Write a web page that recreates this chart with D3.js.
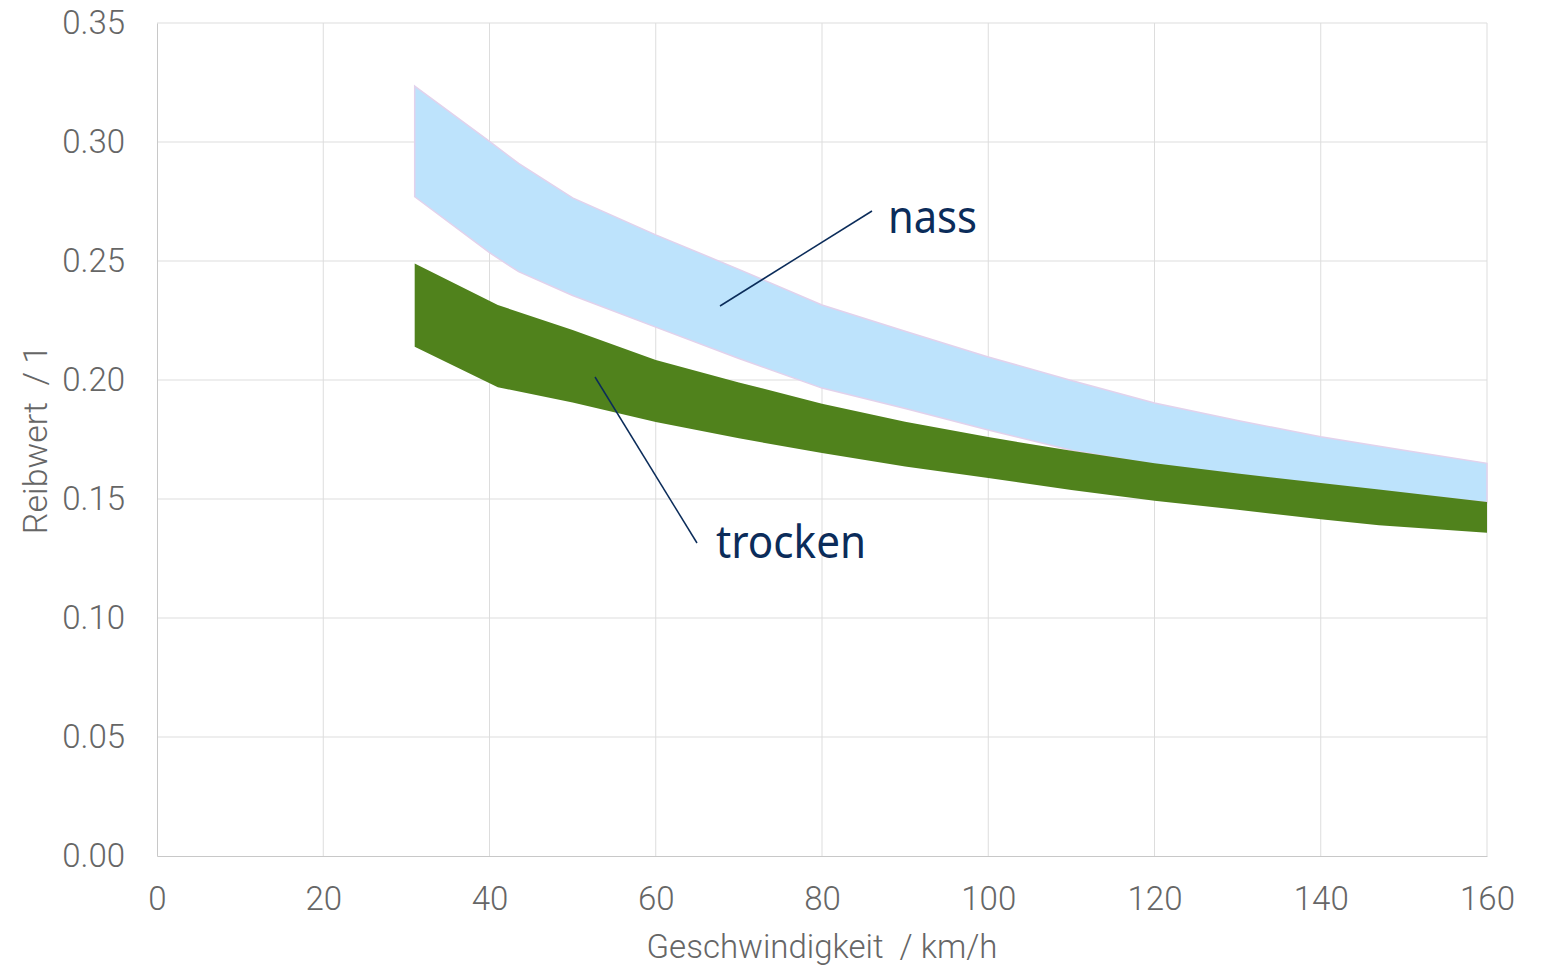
<!DOCTYPE html>
<html><head><meta charset="utf-8">
<script src="https://cdn.jsdelivr.net/npm/d3@7"></script>
<style>html,body{margin:0;padding:0;background:#fff;}svg{display:block;}</style>
</head><body>
<svg id="chart" width="1542" height="968"></svg>
<script>
const xTicks = [0, 20, 40, 60, 80, 100, 120, 140, 160];
const yTicks = [0, 0.05, 0.10, 0.15, 0.20, 0.25, 0.30, 0.35];

const nassSpeed = [31, 40, 43.5, 50, 60, 70, 80, 90, 100, 110, 120, 130, 140, 150, 160];
const nassUpper = [0.3235, 0.3003, 0.291, 0.2765, 0.261, 0.2465, 0.2315, 0.2205, 0.2097, 0.1998, 0.1903, 0.183, 0.1762, 0.1705, 0.165];
const nassLower = [0.277, 0.2535, 0.2455, 0.2355, 0.2222, 0.209, 0.1966, 0.188, 0.179, 0.1705, 0.1645, 0.1603, 0.1563, 0.1523, 0.1485];

const trockenSpeed = [31, 41, 50, 60, 70, 80, 90, 100, 110, 120, 130, 140, 147, 160];
const trockenUpper = [0.249, 0.2315, 0.221, 0.2084, 0.199, 0.19, 0.1825, 0.176, 0.1703, 0.165, 0.1607, 0.1567, 0.154, 0.1487];
const trockenLower = [0.214, 0.197, 0.1905, 0.1824, 0.1755, 0.1693, 0.1637, 0.1588, 0.1538, 0.1493, 0.1455, 0.1415, 0.139, 0.1358];

const svg = d3.select("#chart");
const m = {left: 157, right: 1487, top: 23, bottom: 856};
const x = d3.scaleLinear().domain([0, 160]).range([m.left, m.right]);
const y = d3.scaleLinear().domain([0, 0.35]).range([m.bottom, m.top]);

const tickFont = "Roboto, 'Liberation Sans', sans-serif";

// grid
svg.append("g").selectAll("line").data(xTicks.slice(1)).join("line")
  .attr("x1", d => x(d)).attr("x2", d => x(d)).attr("y1", m.top).attr("y2", m.bottom)
  .attr("stroke", "#dddddd").attr("stroke-width", 1);
svg.append("g").selectAll("line").data(yTicks.slice(1)).join("line")
  .attr("x1", m.left).attr("x2", m.right).attr("y1", d => y(d)).attr("y2", d => y(d))
  .attr("stroke", "#dddddd").attr("stroke-width", 1);

// axes
const xAxis = d3.axisBottom(x).tickValues(xTicks).tickSize(0).tickPadding(31).tickFormat(d3.format("d"));
const gx = svg.append("g").attr("transform", `translate(0,${m.bottom})`).call(xAxis);
gx.select(".domain").attr("stroke", "#c8c8c8");
gx.selectAll("text").attr("font-family", tickFont).attr("font-weight", 300).attr("font-size", 33).attr("fill", "#666");

const yAxis = d3.axisLeft(y).tickValues(yTicks).tickSize(0).tickPadding(32).tickFormat(d3.format(".2f"));
const gy = svg.append("g").attr("transform", `translate(${m.left},0)`).call(yAxis);
gy.select(".domain").attr("stroke", "#c8c8c8");
gy.selectAll("text").attr("font-family", tickFont).attr("font-weight", 300).attr("font-size", 33).attr("fill", "#666");

// areas
const nassData = nassSpeed.map((s, i) => ({s, u: nassUpper[i], l: nassLower[i]}));
const trockenData = trockenSpeed.map((s, i) => ({s, u: trockenUpper[i], l: trockenLower[i]}));
const area = d3.area().x(d => x(d.s)).y0(d => y(d.l)).y1(d => y(d.u));

svg.append("path").datum(nassData).attr("d", area)
  .attr("fill", "#bde3fc").attr("stroke", "#e2d2ec").attr("stroke-width", 1.5);
svg.append("path").datum(trockenData).attr("d", area)
  .attr("fill", "#50821c").attr("stroke", "none");

// annotations
const annFont = "'Noto Sans', 'Open Sans', sans-serif";
svg.append("line").attr("x1", 720).attr("y1", 306).attr("x2", 872).attr("y2", 211)
  .attr("stroke", "#0b2c5a").attr("stroke-width", 1.5);
svg.append("text").attr("x", 888).attr("y", 233).text("nass")
  .attr("font-family", annFont).attr("font-size", 46).attr("fill", "#0b2c5a")
  .attr("textLength", 89).attr("lengthAdjust", "spacingAndGlyphs");
svg.append("line").attr("x1", 595).attr("y1", 377).attr("x2", 697).attr("y2", 543)
  .attr("stroke", "#0b2c5a").attr("stroke-width", 1.5);
svg.append("text").attr("x", 716).attr("y", 558).text("trocken")
  .attr("font-family", annFont).attr("font-size", 46).attr("fill", "#0b2c5a")
  .attr("textLength", 150).attr("lengthAdjust", "spacingAndGlyphs");

// axis titles
svg.append("text").attr("x", (m.left + m.right) / 2).attr("y", 958).attr("text-anchor", "middle")
  .style("white-space", "pre").text("Geschwindigkeit  / km/h")
  .attr("font-family", tickFont).attr("font-weight", 300).attr("font-size", 33).attr("fill", "#666");
svg.append("text").attr("transform", `translate(47,${(m.top + m.bottom) / 2}) rotate(-90)`)
  .attr("text-anchor", "middle").style("white-space", "pre").text("Reibwert  / 1")
  .attr("font-family", tickFont).attr("font-weight", 300).attr("font-size", 34).attr("fill", "#666");
</script>
</body></html>
